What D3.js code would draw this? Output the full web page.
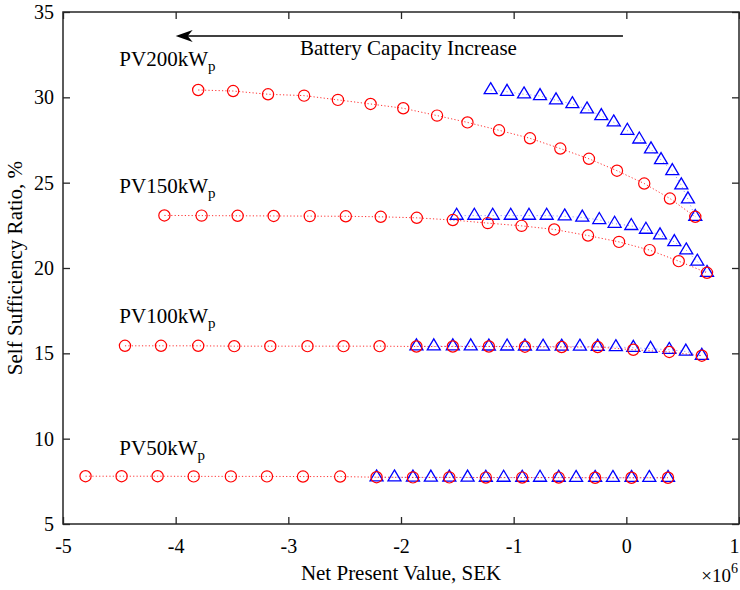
<!DOCTYPE html>
<html>
<head>
<meta charset="utf-8">
<script src="https://cdn.jsdelivr.net/npm/d3@7"></script>
<style>
  html, body { margin: 0; padding: 0; background: #fff; }
  svg { display: block; }
  text { font-family: "Liberation Serif", "Times New Roman", serif; }
</style>
</head>
<body>
<svg id="chart" width="740" height="590"></svg>
<script>
// Net present value (×10^6 SEK) against self sufficiency ratio (%) for four PV sizes.
// Circles and triangles are the two battery scenarios; each run goes from no battery
// (right) to the largest battery (left).

const xTicks = [-5, -4, -3, -2, -1, 0, 1];
const yTicks = [5, 10, 15, 20, 25, 30, 35];

// PV 200 kWp
const circNpv200 = [-3.80, -3.49, -3.18, -2.86, -2.56, -2.27, -1.98, -1.68, -1.41, -1.13, -0.855, -0.586, -0.332, -0.083, 0.159, 0.387, 0.612];
const circSsr200 = [30.43, 30.37, 30.18, 30.10, 29.85, 29.61, 29.36, 28.93, 28.53, 28.07, 27.60, 27.00, 26.40, 25.70, 24.95, 24.07, 23.00];
const triNpv200 = [-1.204, -1.059, -0.908, -0.766, -0.624, -0.479, -0.349, -0.222, -0.112, 0.009, 0.115, 0.219, 0.308, 0.408, 0.488, 0.547, 0.612];
const triSsr200 = [30.43, 30.33, 30.18, 30.08, 29.83, 29.61, 29.30, 28.91, 28.54, 28.05, 27.54, 26.96, 26.33, 25.69, 24.85, 24.03, 23.00];

// PV 150 kWp
const circNpv150 = [-4.10, -3.77, -3.45, -3.13, -2.81, -2.49, -2.18, -1.86, -1.54, -1.23, -0.93, -0.64, -0.34, -0.065, 0.207, 0.465, 0.716];
const circSsr150 = [23.08, 23.07, 23.06, 23.05, 23.04, 23.03, 23.00, 22.94, 22.81, 22.63, 22.47, 22.26, 21.90, 21.53, 21.05, 20.40, 19.72];
const triNpv150 = [-1.506, -1.349, -1.186, -1.026, -0.864, -0.707, -0.547, -0.391, -0.240, -0.104, 0.044, 0.174, 0.299, 0.426, 0.532, 0.630, 0.716];
const triSsr150 = [23.07, 23.07, 23.07, 23.07, 23.07, 23.07, 23.03, 22.96, 22.82, 22.60, 22.47, 22.25, 21.92, 21.53, 21.04, 20.38, 19.72];

// PV 100 kWp
const circNpv100 = [-4.45, -4.13, -3.80, -3.48, -3.16, -2.83, -2.51, -2.19, -1.863, -1.540, -1.220, -0.900, -0.574, -0.254, 0.062, 0.381, 0.670];
const circSsr100 = [15.44, 15.44, 15.44, 15.42, 15.42, 15.42, 15.42, 15.42, 15.40, 15.40, 15.40, 15.39, 15.37, 15.37, 15.21, 15.08, 14.86];
const triNpv100 = [-1.863, -1.709, -1.540, -1.381, -1.220, -1.058, -0.900, -0.739, -0.574, -0.412, -0.254, -0.093, 0.062, 0.215, 0.381, 0.528, 0.670];
const triSsr100 = [15.42, 15.42, 15.42, 15.42, 15.41, 15.41, 15.41, 15.40, 15.40, 15.40, 15.39, 15.37, 15.33, 15.27, 15.21, 15.11, 14.86];

// PV 50 kWp
const circNpv50 = [-4.80, -4.48, -4.16, -3.84, -3.51, -3.19, -2.87, -2.54, -2.217, -1.894, -1.571, -1.247, -0.924, -0.600, -0.277, 0.046, 0.370];
const circSsr50 = [7.80, 7.80, 7.80, 7.79, 7.79, 7.79, 7.78, 7.78, 7.74, 7.73, 7.73, 7.72, 7.72, 7.72, 7.71, 7.71, 7.71];
const triNpv50 = [-2.217, -2.058, -1.894, -1.735, -1.571, -1.409, -1.247, -1.089, -0.924, -0.766, -0.600, -0.446, -0.277, -0.119, 0.046, 0.204, 0.370];
const triSsr50 = [7.74, 7.74, 7.73, 7.73, 7.73, 7.73, 7.72, 7.72, 7.72, 7.72, 7.72, 7.71, 7.71, 7.71, 7.71, 7.71, 7.71];

// Series labels, baseline placed at (NPV, SSR) in data units
const pvLabels = ["PV200kW", "PV150kW", "PV100kW", "PV50kW"];
const pvLabelNpv = [-4.50, -4.50, -4.50, -4.50];
const pvLabelSsr = [31.85, 24.38, 16.76, 9.04];

const arrowText = "Battery Capacity Increase";
const xTitle = "Net Present Value, SEK";
const yTitle = "Self Sufficiency Ratio, %";

const groups = [
  { cx: circNpv200, cy: circSsr200, tx: triNpv200, ty: triSsr200 },
  { cx: circNpv150, cy: circSsr150, tx: triNpv150, ty: triSsr150 },
  { cx: circNpv100, cy: circSsr100, tx: triNpv100, ty: triSsr100 },
  { cx: circNpv50,  cy: circSsr50,  tx: triNpv50,  ty: triSsr50 }
];

const svg = d3.select("#chart");
const margin = { left: 63, right: 1, top: 12, bottom: 66 };
const W = 740, H = 590;
const x = d3.scaleLinear().domain([-5, 1]).range([margin.left, W - margin.right]);
const y = d3.scaleLinear().domain([5, 35]).range([H - margin.bottom, margin.top]);

const axisColor = "#262626";
const fontStack = '"Liberation Serif", "Times New Roman", serif';
const tickFont = 20;
const textFont = 21;
const plainNum = d => String(d);   // hyphen-minus, as in the printed axis

// Axes with inward ticks on all four sides
const gB = svg.append("g").attr("transform", `translate(0,${y(5)})`)
  .call(d3.axisBottom(x).tickValues(xTicks).tickSizeInner(-7).tickSizeOuter(0).tickPadding(15).tickFormat(plainNum));
const gL = svg.append("g").attr("transform", `translate(${x(-5)},0)`)
  .call(d3.axisLeft(y).tickValues(yTicks).tickSizeInner(-7).tickSizeOuter(0).tickPadding(9).tickFormat(plainNum));
const gT = svg.append("g").attr("transform", `translate(0,${y(35)})`)
  .call(d3.axisTop(x).tickValues(xTicks).tickSizeInner(-7).tickSizeOuter(0).tickFormat(""));
const gR = svg.append("g").attr("transform", `translate(${x(1)},0)`)
  .call(d3.axisRight(y).tickValues(yTicks).tickSizeInner(-7).tickSizeOuter(0).tickFormat(""));

[gB, gL, gT, gR].forEach(g => {
  g.attr("font-family", fontStack).attr("font-size", tickFont);
  g.select(".domain").remove();
  g.selectAll(".tick line").attr("stroke", axisColor).attr("stroke-width", 1.3);
  g.selectAll(".tick text")
    .attr("fill", "#000")
    .style("font-family", fontStack)
    .style("font-size", tickFont + "px");
});
// The last x label sits at the window edge: keep it inside
gB.selectAll(".tick text").filter(d => d === 1).attr("text-anchor", "end").attr("x", 0);

svg.append("rect")
  .attr("x", x(-5)).attr("y", y(35))
  .attr("width", x(1) - x(-5)).attr("height", y(5) - y(35))
  .attr("fill", "none").attr("stroke", axisColor).attr("stroke-width", 1.5);

// Dotted connecting lines
const line = d3.line().x(d => x(d[0])).y(d => y(d[1]));
const zipPts = (a, b) => a.map((v, i) => [v, b[i]]);

groups.forEach(g => {
  svg.append("path")
    .datum(zipPts(g.tx, g.ty))
    .attr("d", line)
    .attr("fill", "none")
    .attr("stroke", "#0000ff")
    .attr("stroke-opacity", 0.55)
    .attr("stroke-width", 0.9)
    .attr("stroke-dasharray", "1,3");
  svg.append("path")
    .datum(zipPts(g.cx, g.cy))
    .attr("d", line)
    .attr("fill", "none")
    .attr("stroke", "#ff0000")
    .attr("stroke-opacity", 0.8)
    .attr("stroke-width", 1)
    .attr("stroke-dasharray", "1.2,2.2");
});

// Markers: triangles (centroid on the point), then circles
const triW = 13, triH = 11;
const triPath = `M0,${-2 * triH / 3}L${triW / 2},${triH / 3}L${-triW / 2},${triH / 3}Z`;

groups.forEach(g => {
  svg.append("g").selectAll("path")
    .data(zipPts(g.tx, g.ty))
    .join("path")
    .attr("transform", d => `translate(${x(d[0])},${y(d[1])})`)
    .attr("d", triPath)
    .attr("fill", "none")
    .attr("stroke", "#0000ff")
    .attr("stroke-width", 1.3);
});
groups.forEach(g => {
  svg.append("g").selectAll("circle")
    .data(zipPts(g.cx, g.cy))
    .join("circle")
    .attr("cx", d => x(d[0]))
    .attr("cy", d => y(d[1]))
    .attr("r", 5.6)
    .attr("fill", "none")
    .attr("stroke", "#ff0000")
    .attr("stroke-width", 1.2);
});

// Series labels with subscript p
pvLabels.forEach((t, i) => {
  const txt = svg.append("text")
    .attr("x", x(pvLabelNpv[i]))
    .attr("y", y(pvLabelSsr[i]))
    .attr("fill", "#000")
    .style("font-size", textFont + "px")
    .text(t);
  txt.append("tspan")
    .attr("dy", 5)
    .style("font-size", "15px")
    .text("p");
});

// Arrow showing the direction of increasing battery capacity
const arrowY = y(33.6);
const arrowX0 = x(-0.03), arrowX1 = x(-4.0);
svg.append("line")
  .attr("x1", arrowX0).attr("y1", arrowY)
  .attr("x2", arrowX1 + 10).attr("y2", arrowY)
  .attr("stroke", "#000").attr("stroke-width", 1.5);
svg.append("path")
  .attr("d", `M${arrowX1},${arrowY}L${arrowX1 + 17},${arrowY - 6}L${arrowX1 + 12},${arrowY}L${arrowX1 + 17},${arrowY + 6}Z`)
  .attr("fill", "#000");
svg.append("text")
  .attr("x", 300).attr("y", arrowY + 19)
  .attr("fill", "#000")
  .style("font-size", textFont + "px")
  .text(arrowText);

// Axis titles
svg.append("text")
  .attr("x", 401).attr("y", 580)
  .attr("text-anchor", "middle")
  .attr("fill", "#000")
  .style("font-size", textFont + "px")
  .text(xTitle);

svg.append("text")
  .attr("transform", `translate(22,${(y(5) + y(35)) / 2}) rotate(-90)`)
  .attr("text-anchor", "middle")
  .attr("fill", "#000")
  .style("font-size", textFont + "px")
  .text(yTitle);

// Exponent of the x axis
const expo = svg.append("text")
  .attr("x", 738).attr("y", 582)
  .attr("text-anchor", "end")
  .attr("fill", "#000")
  .style("font-size", "19px")
  .text("×10");
expo.append("tspan")
  .attr("dy", -9)
  .style("font-size", "14px")
  .text("6");
</script>
</body>
</html>
